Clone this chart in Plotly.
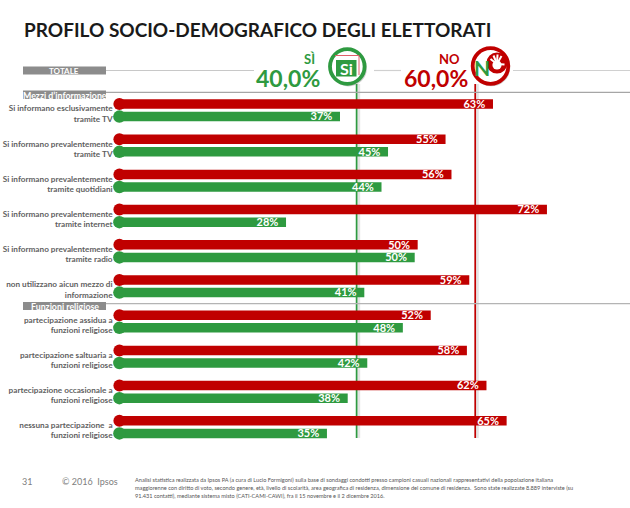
import plotly.graph_objects as go

W, H = 630, 508
PX_PER_PCT = 5.93
X0 = 119.4
ROW0 = 104.0
ROW_STEP = 35.2

line1 = ["Si informano esclusivamente", "Si informano prevalentemente", "Si informano prevalentemente",
         "Si informano prevalentemente", "Si informano prevalentemente", "non utilizzano aicun mezzo di",
         "partecipazione assidua a", "partecipazione saltuaria a", "partecipazione occasionale a",
         "nessuna partecipazione  a"]
line2 = ["tramite TV", "tramite TV", "tramite quotidiani", "tramite internet", "tramite radio", "informazione",
         "funzioni religiose", "funzioni religiose", "funzioni religiose", "funzioni religiose"]
# printed labels
no_labels = [63, 55, 56, 72, 50, 59, 52, 58, 62, 65]
si_labels = [37, 45, 44, 28, 50, 41, 48, 42, 38, 35]
# bar lengths as drawn in the picture (the source's bars do not match its rounded labels exactly)
no_values = [63.0, 55.0, 56.0, 72.1, 50.3, 59.0, 52.5, 58.6, 61.9, 65.3]
si_values = [37.2, 45.3, 44.2, 28.1, 49.8, 41.3, 47.8, 41.8, 38.5, 35.0]
total_si = 40.0
total_no = 60.0

RED = "#c00000"
GREEN = "#2e9a40"
GREY = "#8c8c8c"
TEXT = "#5f5f5f"
FONT = "Lato"

rows = list(range(len(no_values)))
y_no = rows
y_si = [r + 12.6 / ROW_STEP for r in rows]
y_l1 = [r + 5.3 / ROW_STEP for r in rows]
y_l2 = [r + 15.5 / ROW_STEP for r in rows]
TEXT_NUDGE = 1.0 / ROW_STEP


def px(x):
    return x / W


def py(y):
    return 1 - y / H


fig = go.Figure()
fig.add_bar(x=no_values, y=y_no, orientation="h", width=9.5 / ROW_STEP, marker=dict(color=RED, line_width=0), base=0)
fig.add_bar(x=si_values, y=y_si, orientation="h", width=9.5 / ROW_STEP, marker=dict(color=GREEN, line_width=0), base=0)
fig.add_scatter(x=[0] * len(rows), y=y_no, mode="markers", marker=dict(color=RED, size=12, line_width=0))
fig.add_scatter(x=[0] * len(rows), y=y_si, mode="markers", marker=dict(color=GREEN, size=12.5, line_width=0))

fig.add_scatter(x=[-1.15] * len(rows), y=y_l1, mode="text", text=line1, textposition="middle left",
                textfont=dict(family=FONT, size=8.2, color=TEXT, weight="bold"))
fig.add_scatter(x=[-1.15] * len(rows), y=y_l2, mode="text", text=line2, textposition="middle left",
                textfont=dict(family=FONT, size=8.2, color=TEXT, weight="bold"))

shapes = []
annotations = []


def rect(x0, y0, x1, y1, color, layer="above"):
    shapes.append(dict(type="rect", xref="paper", yref="paper", x0=px(x0), x1=px(x1), y0=py(y0), y1=py(y1),
                       fillcolor=color, line_width=0, layer=layer))


def seg(x0, y0, x1, y1, color, width=1.2):
    shapes.append(dict(type="line", xref="paper", yref="paper", x0=px(x0), x1=px(x1), y0=py(y0), y1=py(y1),
                       line=dict(color=color, width=width), layer="above"))


def hline(x0, x1, y, color, width=1.2):
    seg(x0, y, x1, y, color, width)


def circle(cx, cy, r, fill, line, lw):
    shapes.append(dict(type="circle", xref="paper", yref="paper", x0=px(cx - r), x1=px(cx + r),
                       y0=py(cy + r), y1=py(cy - r), fillcolor=fill, line=dict(color=line, width=lw), layer="above"))


def label(x, y, text, size, color, anchor="center", weight="bold", family=FONT):
    annotations.append(dict(xref="paper", yref="paper", x=px(x), y=py(y), text=text, showarrow=False,
                            xanchor=anchor, yanchor="middle",
                            font=dict(family=family, size=size, color=color, weight=weight)))


# reference lines (from the totals), underneath the bars
for val, col in ((total_si, GREEN), (total_no, RED)):
    shapes.append(dict(type="line", xref="x", yref="paper", x0=val + 0.35, x1=val + 0.35, y0=py(84), y1=py(438),
                       line=dict(color="rgba(120,120,120,0.2)", width=3), layer="below"))
    shapes.append(dict(type="line", xref="x", yref="paper", x0=val, x1=val, y0=py(84), y1=py(438),
                       line=dict(color=col, width=1.7), layer="below"))

# horizontal rules and section tags
hline(106, 254, 70.5, "#c8c8c8")
hline(374, 401, 70.5, "#d0d0d0")
hline(513, 630, 70.5, "#d0d0d0")
hline(106, 630, 92.3, "#a6a6a6")
hline(106, 630, 303.7, "#b4b4b4")
rect(23, 66.5, 106, 74.5, GREY)
rect(23, 90.5, 106, 99, GREY)
rect(23, 302, 106, 310, GREY)
label(64, 71, "TOTALE", 8, "#ffffff")
label(65, 95.6, "Mezzi d’informazione", 8.8, "#ffffff")
label(65, 306.8, "Funzioni religiose", 8.8, "#ffffff")

# headers
label(22, 29.5, "PROFILO SOCIO-DEMOGRAFICO DEGLI ELETTORATI", 19, "#1a1a1a", anchor="left")
label(309, 59, "SÌ", 13, GREEN)
label(288, 78.5, f"{total_si:.1f}%".replace(".", ","), 23, GREEN)
label(449, 59, "NO", 13, RED)
label(436, 78, f"{total_no:.1f}%".replace(".", ","), 23, RED)

# Si logo
circle(348.5, 68, 17.5, "rgba(130,130,130,0.35)", "rgba(130,130,130,0.35)", 2)
circle(347.3, 66.5, 17.3, "#ffffff", GREEN, 3.8)
rect(336, 60, 356.5, 76.5, GREEN)
seg(335, 55.5, 359, 55.5, "#e0606a", 1)
seg(359, 55.5, 359, 75, "#e0606a", 1)
label(346.3, 68.5, "Si", 16, "#ffffff")

# No logo
circle(491.5, 67.5, 17.8, "rgba(130,130,130,0.35)", "rgba(130,130,130,0.35)", 2)
circle(490.5, 66, 17.8, "#ffffff", RED, 3.8)
circle(497, 63, 10.5, RED, RED, 0)
circle(497, 65, 4.6, "#ffffff", "#ffffff", 0)
for tx, ty in ((490.5, 59), (493.5, 55.5), (497.5, 54.5), (501.5, 56), (504.5, 64.5)):
    seg(497, 64, tx, ty, "#ffffff", 2)
label(482, 67, "N", 21, GREEN)

# footer
label(27, 481, "31", 9, "#808080", weight="normal")
label(60, 481, "© 2016  Ipsos", 9, "#808080", anchor="left", weight="normal")
foot = ["Analisi statistica realizzata da Ipsos PA (a cura di Lucio Formigoni) sulla base di sondaggi condotti presso campioni casuali nazionali rappresentativi della popolazione italiana",
        "maggiorenne con diritto di voto, secondo genere, età, livello di scolarità, area geografica di residenza, dimensione del comune di residenza.  Sono state realizzate 8.889 interviste (su",
        "91.431 contatti), mediante sistema misto (CATI-CAMI-CAWI), fra il 15 novembre e il 2 dicembre 2016."]
for i, t in enumerate(foot):
    label(132.5, 479.5 + 8.2 * i, t, 5.6, "#555555", anchor="left", weight="normal")

# value labels
for vals, labs, ys in ((no_values, no_labels, y_no), (si_values, si_labels, y_si)):
    fig.add_scatter(x=[v - 1.3 for v in vals], y=[y + TEXT_NUDGE for y in ys], mode="text",
                    text=[f"{v}%" for v in labs], textposition="middle left",
                    textfont=dict(family=FONT, size=11, color="#ffffff", weight="bold"))

fig.update_layout(
    width=W, height=H, margin=dict(l=0, r=0, t=0, b=0), paper_bgcolor="#ffffff", plot_bgcolor="#ffffff",
    showlegend=False, barmode="overlay", shapes=shapes, annotations=annotations,
    xaxis=dict(range=[-X0 / PX_PER_PCT, (W - X0) / PX_PER_PCT], visible=False, fixedrange=True),
    yaxis=dict(range=[(H - ROW0) / ROW_STEP, -ROW0 / ROW_STEP], visible=False, fixedrange=True),
)
fig.write_html("out.html", config=dict(displayModeBar=False),
               post_script="document.body.style.margin='0';document.body.style.overflow='hidden';")
